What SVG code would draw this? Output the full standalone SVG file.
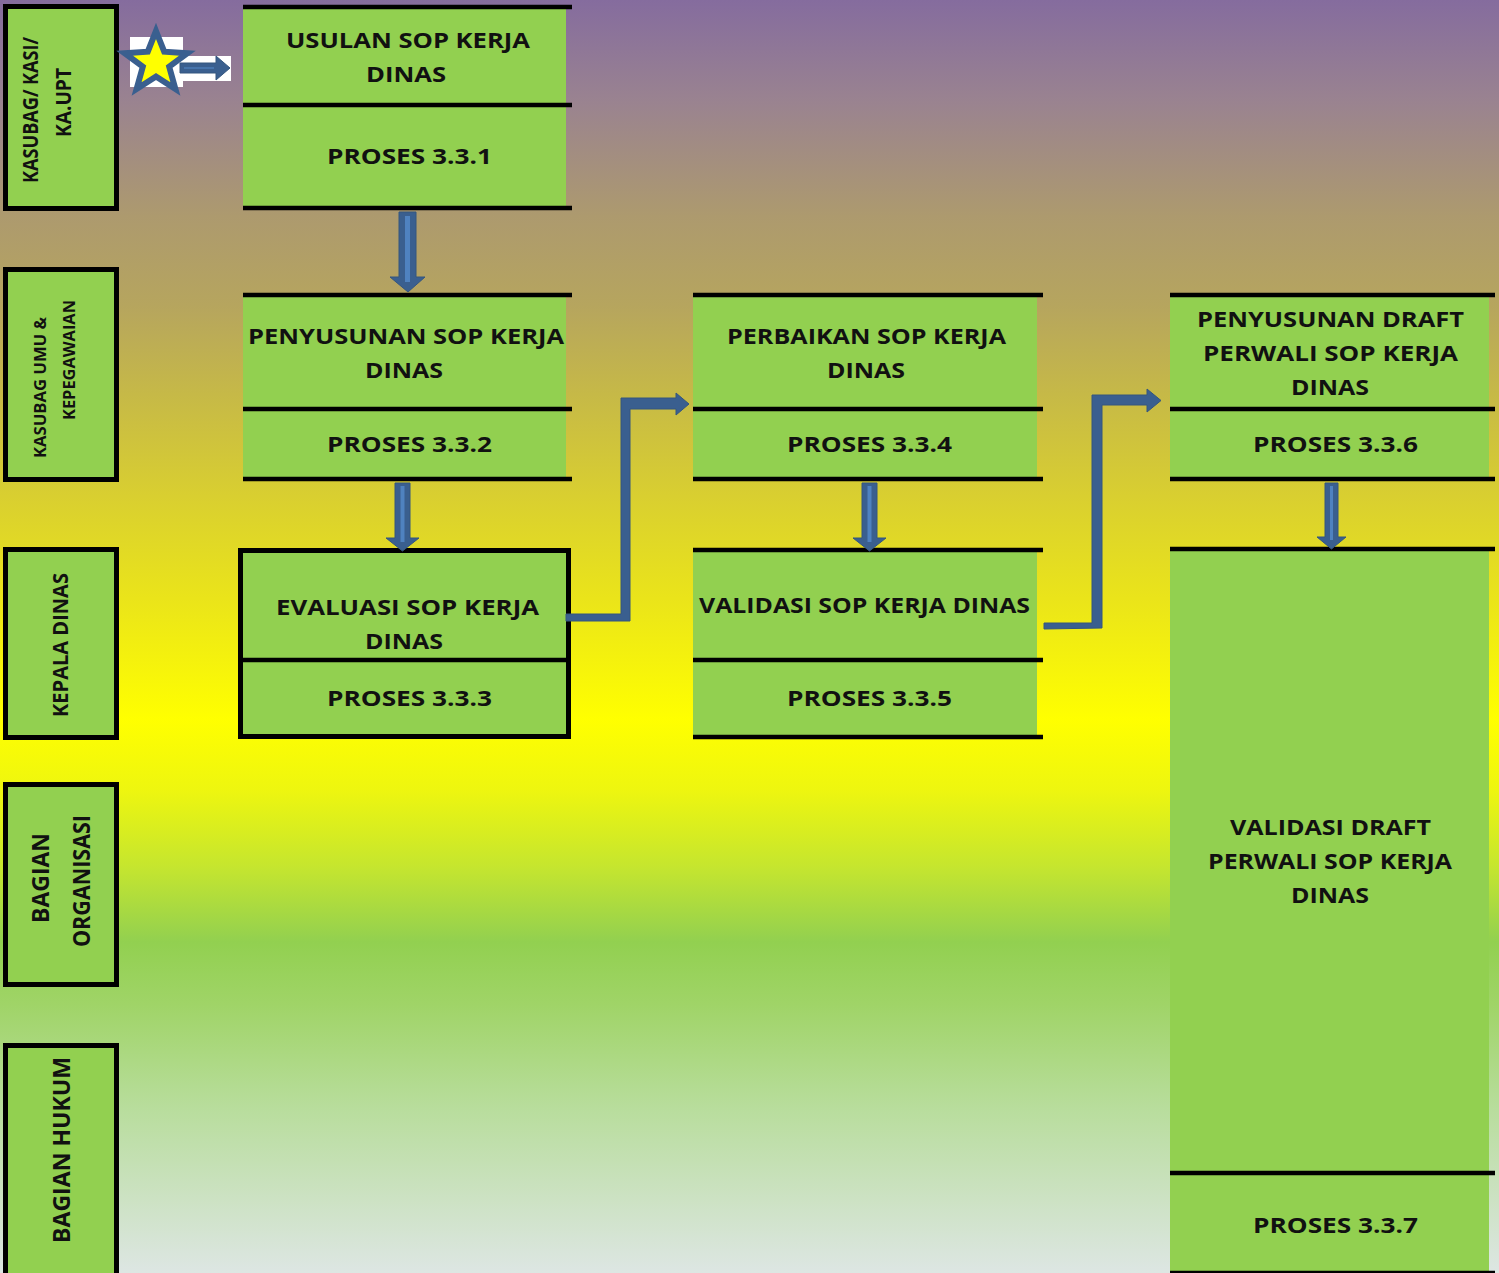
<svg xmlns="http://www.w3.org/2000/svg" width="1499" height="1273" viewBox="0 0 1499 1273">
<defs>
<linearGradient id="bg" gradientUnits="userSpaceOnUse" x1="0" y1="0" x2="0" y2="1273">
<stop offset="0" stop-color="#856c9e"/>
<stop offset="0.08" stop-color="#9a8390"/>
<stop offset="0.17" stop-color="#ad9a6e"/>
<stop offset="0.24" stop-color="#b6a55e"/>
<stop offset="0.31" stop-color="#c6b947"/>
<stop offset="0.39" stop-color="#d9cf30"/>
<stop offset="0.47" stop-color="#eae41a"/>
<stop offset="0.565" stop-color="#ffff00"/>
<stop offset="0.62" stop-color="#eef60f"/>
<stop offset="0.68" stop-color="#c6e62e"/>
<stop offset="0.74" stop-color="#92d050"/>
<stop offset="0.79" stop-color="#a0d468"/>
<stop offset="0.87" stop-color="#b8dd9c"/>
<stop offset="1" stop-color="#dde6e3"/>
</linearGradient>
<style>
.lane{fill:#92d050;stroke:#000;stroke-width:5}
.fill{fill:#92d050}
.ln{stroke:#000;stroke-width:4.5}
.t{font-family:"Open Sans","Liberation Sans",sans-serif;font-weight:bold;font-size:22px;fill:#111;text-anchor:middle}
.r{font-family:"Open Sans","Liberation Sans",sans-serif;font-weight:bold;fill:#111;text-anchor:middle}
.ar{fill:#3a5f8f;stroke:#34567f;stroke-width:1}
.hl{fill:#4f82c0}
</style>
</defs>
<rect x="0" y="0" width="1499" height="1273" fill="url(#bg)"/>

<g id="lane1">
<rect class="lane" x="5.5" y="6.5" width="111" height="202"/>
<text class="r" font-size="21" textLength="146" lengthAdjust="spacingAndGlyphs" transform="translate(37.5,110) rotate(-90)">KASUBAG/ KASI/</text>
<text class="r" font-size="21" textLength="69" lengthAdjust="spacingAndGlyphs" transform="translate(70.5,102.5) rotate(-90)">KA.UPT</text>
</g>
<g id="lane2">
<rect class="lane" x="5.5" y="269.5" width="111" height="210"/>
<text class="r" font-size="16" textLength="141" lengthAdjust="spacingAndGlyphs" transform="translate(46,387.5) rotate(-90)">KASUBAG UMU &amp;</text>
<text class="r" font-size="16" textLength="120" lengthAdjust="spacingAndGlyphs" transform="translate(75,360) rotate(-90)">KEPEGAWAIAN</text>
</g>
<g id="lane3">
<rect class="lane" x="5.5" y="549.5" width="111" height="188"/>
<text class="r" font-size="21" textLength="144" lengthAdjust="spacingAndGlyphs" transform="translate(68,645) rotate(-90)">KEPALA DINAS</text>
</g>
<g id="lane4">
<rect class="lane" x="5.5" y="784.5" width="111" height="200"/>
<text class="r" font-size="23" textLength="90" lengthAdjust="spacingAndGlyphs" transform="translate(48.5,878) rotate(-90)">BAGIAN</text>
<text class="r" font-size="23" textLength="132" lengthAdjust="spacingAndGlyphs" transform="translate(90,881) rotate(-90)">ORGANISASI</text>
</g>
<g id="lane5">
<rect class="lane" x="5.5" y="1045.5" width="111" height="232"/>
<text class="r" font-size="23" textLength="186" lengthAdjust="spacingAndGlyphs" transform="translate(69.5,1150) rotate(-90)">BAGIAN HUKUM</text>
</g>

<g id="start">
<rect x="130" y="37" width="53" height="50" fill="#fff"/>
<rect x="178" y="56" width="53" height="25" fill="#fff"/>
<polygon points="156,31 164.2,51.7 187.4,53.2 169.2,66.7 175.4,89 156,76.5 136.6,89 142.8,66.7 124.6,53.2 147.8,51.7" fill="#ffff00" stroke="#3a5f8f" stroke-width="6" stroke-linejoin="miter"/>
<polygon class="ar" points="180,63 216,63 216,56 230,68 216,80 216,73 180,73"/>
<rect class="hl" x="184" y="67" width="30" height="2" opacity="0.6"/>
</g>

<g id="p331">
<rect class="fill" x="243" y="7" width="323" height="201"/>
<line class="ln" x1="243" y1="7" x2="572" y2="7"/>
<line class="ln" x1="243" y1="105" x2="572" y2="105"/>
<line class="ln" x1="243" y1="208" x2="572" y2="208"/>
<text class="t" x="408" y="48" textLength="244" lengthAdjust="spacingAndGlyphs">USULAN SOP KERJA</text>
<text class="t" x="406" y="82" textLength="80" lengthAdjust="spacingAndGlyphs">DINAS</text>
<text class="t" x="409.5" y="164" textLength="165" lengthAdjust="spacingAndGlyphs">PROSES 3.3.1</text>
</g>

<g id="p332">
<rect class="fill" x="243" y="295" width="323" height="184"/>
<line class="ln" x1="243" y1="295" x2="572" y2="295"/>
<line class="ln" x1="243" y1="409" x2="572" y2="409"/>
<line class="ln" x1="243" y1="479" x2="572" y2="479"/>
<text class="t" x="406" y="344" textLength="316" lengthAdjust="spacingAndGlyphs">PENYUSUNAN SOP KERJA</text>
<text class="t" x="404" y="378" textLength="78" lengthAdjust="spacingAndGlyphs">DINAS</text>
<text class="t" x="409.5" y="452" textLength="165" lengthAdjust="spacingAndGlyphs">PROSES 3.3.2</text>
</g>

<g id="p333">
<rect class="lane" x="240.5" y="550.5" width="328" height="186"/>
<line class="ln" x1="240" y1="660" x2="570" y2="660"/>
<text class="t" x="407.5" y="615" textLength="263" lengthAdjust="spacingAndGlyphs">EVALUASI SOP KERJA</text>
<text class="t" x="404" y="649" textLength="78" lengthAdjust="spacingAndGlyphs">DINAS</text>
<text class="t" x="409.5" y="706" textLength="165" lengthAdjust="spacingAndGlyphs">PROSES 3.3.3</text>
</g>

<g id="p334">
<rect class="fill" x="693" y="295" width="344" height="184"/>
<line class="ln" x1="693" y1="295" x2="1043" y2="295"/>
<line class="ln" x1="693" y1="409" x2="1043" y2="409"/>
<line class="ln" x1="693" y1="479" x2="1043" y2="479"/>
<text class="t" x="866.5" y="344" textLength="279" lengthAdjust="spacingAndGlyphs">PERBAIKAN SOP KERJA</text>
<text class="t" x="866" y="378" textLength="78" lengthAdjust="spacingAndGlyphs">DINAS</text>
<text class="t" x="869.5" y="452" textLength="165" lengthAdjust="spacingAndGlyphs">PROSES 3.3.4</text>
</g>

<g id="p335">
<rect class="fill" x="693" y="550" width="344" height="187"/>
<line class="ln" x1="693" y1="550" x2="1043" y2="550"/>
<line class="ln" x1="693" y1="660" x2="1043" y2="660"/>
<line class="ln" x1="693" y1="737" x2="1043" y2="737"/>
<text class="t" x="864.5" y="613" textLength="331" lengthAdjust="spacingAndGlyphs">VALIDASI SOP KERJA DINAS</text>
<text class="t" x="869.5" y="706" textLength="165" lengthAdjust="spacingAndGlyphs">PROSES 3.3.5</text>
</g>

<g id="p336">
<rect class="fill" x="1170" y="295" width="319" height="184"/>
<line class="ln" x1="1170" y1="295" x2="1495" y2="295"/>
<line class="ln" x1="1170" y1="409" x2="1495" y2="409"/>
<line class="ln" x1="1170" y1="479" x2="1495" y2="479"/>
<text class="t" x="1330.5" y="327" textLength="267" lengthAdjust="spacingAndGlyphs">PENYUSUNAN DRAFT</text>
<text class="t" x="1330.5" y="361" textLength="255" lengthAdjust="spacingAndGlyphs">PERWALI SOP KERJA</text>
<text class="t" x="1330" y="395" textLength="78" lengthAdjust="spacingAndGlyphs">DINAS</text>
<text class="t" x="1335.5" y="452" textLength="165" lengthAdjust="spacingAndGlyphs">PROSES 3.3.6</text>
</g>

<g id="p337">
<rect class="fill" x="1170" y="549" width="319" height="724"/>
<line class="ln" x1="1170" y1="549" x2="1495" y2="549"/>
<line class="ln" x1="1170" y1="1173" x2="1495" y2="1173"/>
<line class="ln" x1="1170" y1="1273" x2="1495" y2="1273"/>
<text class="t" x="1330.5" y="835" textLength="201" lengthAdjust="spacingAndGlyphs">VALIDASI DRAFT</text>
<text class="t" x="1330" y="869" textLength="244" lengthAdjust="spacingAndGlyphs">PERWALI SOP KERJA</text>
<text class="t" x="1330" y="903" textLength="78" lengthAdjust="spacingAndGlyphs">DINAS</text>
<text class="t" x="1335.5" y="1233" textLength="165" lengthAdjust="spacingAndGlyphs">PROSES 3.3.7</text>
</g>

<g id="connectors">
<polygon class="ar" points="399,212 416,212 416,277 425,277 408,292 390,277 399,277"/>
<rect class="hl" x="405" y="216" width="5" height="66"/>
<polygon class="ar" points="395,483 410,483 410,538 419,538 402.5,551 386,538 395,538"/>
<rect class="hl" x="400.5" y="486" width="4" height="56"/>
<polygon class="ar" points="862,483 877,483 877,538 886,538 869.5,551 853,538 862,538"/>
<rect class="hl" x="867.5" y="486" width="4" height="56"/>
<polygon class="ar" points="1325,483 1338,483 1338,537 1346,537 1331.5,549 1317,537 1325,537"/>
<rect class="hl" x="1330" y="486" width="3" height="54"/>

<polygon class="ar" points="566,614 621,614 621,398 676,398 676,393 689,404 676,415 676,409 630,409 630,621 566,621"/>
<polygon class="ar" points="1044,623 1092,623 1092,395 1147,395 1147,389 1161,400.5 1147,412 1147,405 1102,405 1102,628 1044,629"/>
</g>
</svg>
